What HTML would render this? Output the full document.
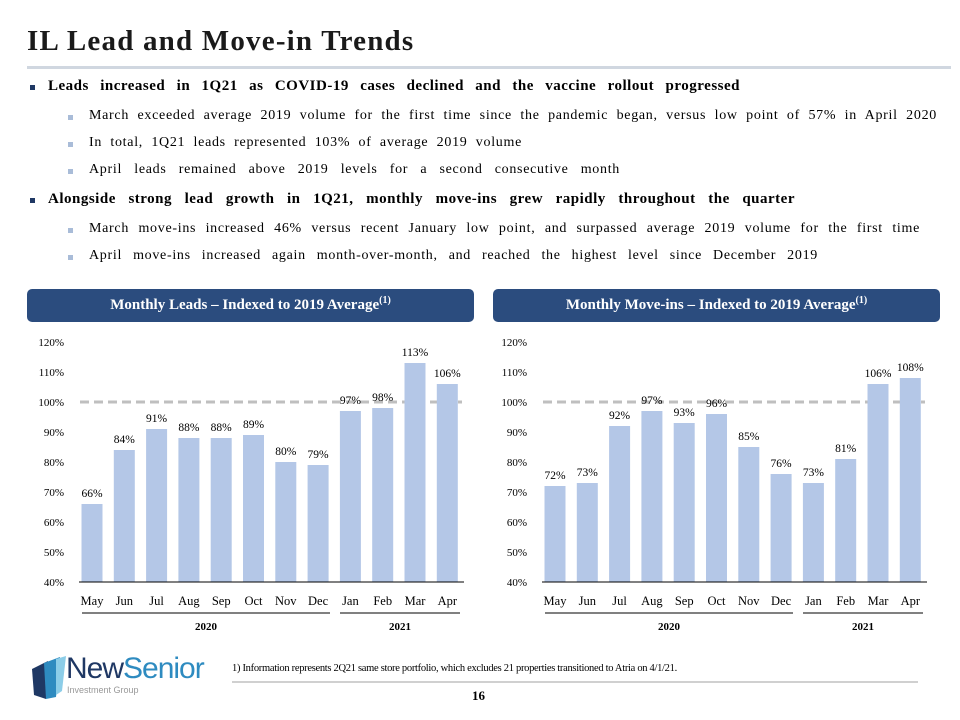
<!DOCTYPE html>
<html><head><meta charset="utf-8"><style>
body{margin:0;width:960px;height:720px;background:#fff;font-family:"Liberation Serif",serif;color:#000;position:relative;overflow:hidden}
.a{position:absolute;white-space:nowrap}
.j{display:block;text-align:justify;text-align-last:justify;white-space:nowrap}
.b1{font-weight:bold;font-size:15px;letter-spacing:0.5px}
.b2{font-size:14px;letter-spacing:0.7px}
.sq{position:absolute;width:5px;height:5px;background:#1f3864}
.sq2{position:absolute;width:5px;height:5px;background:#a9bcd8}
.hdr{position:absolute;top:289px;height:33px;background:#2b4c7e;border-radius:5px;color:#fff;font-weight:bold;font-size:15px;text-align:center;line-height:33px}
</style></head><body>
<div class="a j" style="left:27px;top:25px;width:385px;font-size:29px;letter-spacing:1.2px;font-weight:bold;color:#1a1a1a">IL Lead and Move-in Trends</div>
<div class="a" style="left:27px;top:66px;width:924px;height:3px;background:#d0d7e0"></div>

<div class="sq" style="left:30px;top:85px"></div>
<div class="a b1 j" style="left:48px;top:78px;width:692px">Leads increased in 1Q21 as COVID-19 cases declined and the vaccine rollout progressed</div>
<div class="sq2" style="left:68px;top:115px"></div>
<div class="a b2 j" style="left:89px;top:108px;width:848px">March exceeded average 2019 volume for the first time since the pandemic began, versus low point of 57% in April 2020</div>
<div class="sq2" style="left:68px;top:142px"></div>
<div class="a b2 j" style="left:89px;top:135px;width:433px">In total, 1Q21 leads represented 103% of average 2019 volume</div>
<div class="sq2" style="left:68px;top:169px"></div>
<div class="a b2 j" style="left:89px;top:162px;width:531px">April leads remained above 2019 levels for a second consecutive month</div>
<div class="sq" style="left:30px;top:198px"></div>
<div class="a b1 j" style="left:48px;top:191px;width:747px">Alongside strong lead growth in 1Q21, monthly move-ins grew rapidly throughout the quarter</div>
<div class="sq2" style="left:68px;top:228px"></div>
<div class="a b2 j" style="left:89px;top:221px;width:831px">March move-ins increased 46% versus recent January low point, and surpassed average 2019 volume for the first time</div>
<div class="sq2" style="left:68px;top:255px"></div>
<div class="a b2 j" style="left:89px;top:248px;width:729px">April move-ins increased again month-over-month, and reached the highest level since December 2019</div>

<div class="hdr" style="left:27px;width:447px">Monthly Leads – Indexed to 2019 Average<sup style="font-size:10px;line-height:0">(1)</sup></div>
<div class="hdr" style="left:493px;width:447px">Monthly Move-ins – Indexed to 2019 Average<sup style="font-size:10px;line-height:0">(1)</sup></div>

<svg id="ch" width="960" height="720" style="position:absolute;left:0;top:0" font-family="Liberation Serif, serif"></svg>

<div class="a" style="left:28px;top:655px;width:190px;height:45px">
<svg width="40" height="45" style="position:absolute;left:0;top:0"><path d="M4 14 L20 6 L18 44 L6 40Z" fill="#1f3864"/><path d="M16 8 L32 2 L28 42 L18 44Z" fill="#2e8bc0"/><path d="M28 4 L38 1 L34 36 L28 40Z" fill="#8ccde8"/></svg>
<div class="a" style="left:38px;top:-3px;font-family:'Liberation Sans',sans-serif;font-size:30px;color:#1f3864;letter-spacing:-1px">New<span style="color:#2e8bc0">Senior</span></div>
<div class="a" style="left:39px;top:30px;font-family:'Liberation Sans',sans-serif;font-size:9px;color:#999">Investment Group</div>
</div>
<div class="a" style="left:232px;top:663px;font-size:10.5px;letter-spacing:-0.3px">1) Information represents 2Q21 same store portfolio, which excludes 21 properties transitioned to Atria on 4/1/21.</div>
<div class="a" style="left:232px;top:681px;width:686px;height:2px;background:#d0d0d0"></div>
<div class="a" style="left:472px;top:688px;font-size:13px;font-weight:bold">16</div>

<script>
const months=["May","Jun","Jul","Aug","Sep","Oct","Nov","Dec","Jan","Feb","Mar","Apr"];
const leads=[66,84,91,88,88,89,80,79,97,98,113,106];
const moveins=[72,73,92,97,93,96,85,76,73,81,106,108];
const ticks=[40,50,60,70,80,90,100,110,120];
const years=["2020","2021"];
const svg=document.getElementById('ch');
const NS="http://www.w3.org/2000/svg";
function mk(t,a,txt){const e=document.createElementNS(NS,t);for(const k in a)e.setAttribute(k,a[k]);if(txt!=null)e.textContent=txt;svg.appendChild(e);return e;}
function y(v){return 582-(v-40)*3;}
function draw(vals,ox,name){
  const x=i=>ox+92+i*32.3;
  ticks.forEach(t=>{const e=mk('text',{x:ox+64,y:y(t)+4,'text-anchor':'end','font-size':11},t+'%');
    
    });
  const d=mk('line',{x1:ox+80,x2:ox+462,y1:y(100),y2:y(100),stroke:'#bfbfbf','stroke-width':3,'stroke-dasharray':'9,5'});
  
  
  vals.forEach((v,i)=>{
    const r=mk('rect',{x:x(i)-10.5,y:y(v),width:21,height:582-y(v),fill:'#b4c7e7'});
    
    
    const l=mk('text',{x:x(i),y:y(v)-7,'text-anchor':'middle','font-size':11.5},v+'%');
    
    
    const m=mk('text',{x:x(i),y:605,'text-anchor':'middle','font-size':12.5},months[i]);
    
    
  });
  const ax=mk('line',{x1:ox+79,x2:ox+464,y1:582,y2:582,stroke:'#000','stroke-width':1});
  
  
  [[ox+82,ox+330,years[0]],[ox+340,ox+460,years[1]]].forEach(s=>{
    const ln=mk('line',{x1:s[0],x2:s[1],y1:613,y2:613,stroke:'#000','stroke-width':1});
    
    
    const tx=mk('text',{x:(s[0]+s[1])/2,y:630,'text-anchor':'middle','font-size':11,'font-weight':'bold'},s[2]);
    
    
  });
}
draw(leads,0,'leads');
draw(moveins,463,'moveins');
</script>
</body></html>
